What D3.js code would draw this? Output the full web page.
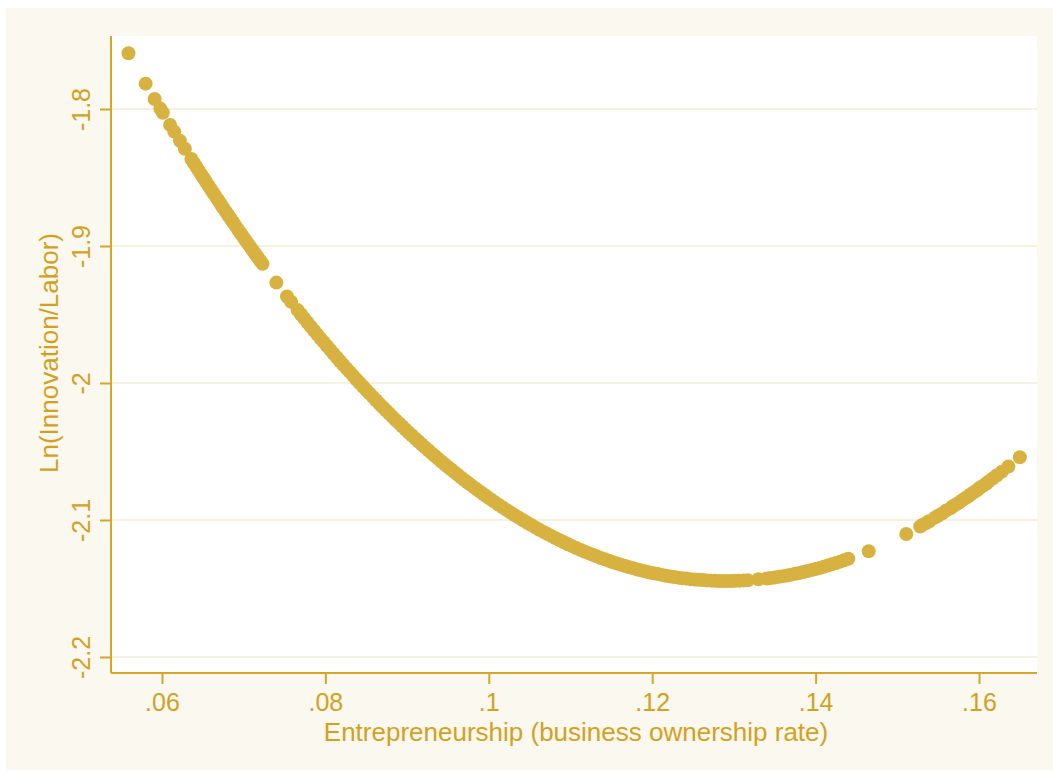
<!DOCTYPE html>
<html>
<head>
<meta charset="utf-8">
<script src="https://cdn.jsdelivr.net/npm/d3@7"></script>
<style>
  html, body { margin: 0; padding: 0; background: #ffffff; }
  svg { display: block; }
  text { font-family: "Liberation Sans", Arial, sans-serif; }
</style>
</head>
<body>
<svg id="chart" width="1053" height="771"></svg>
<script>
// ---- Data ----
const xLabel = "Entrepreneurship (business ownership rate)";
const yLabel = "Ln(Innovation/Labor)";

const xTickValues = [0.06, 0.08, 0.10, 0.12, 0.14, 0.16];
const xTickLabels = [".06", ".08", ".1", ".12", ".14", ".16"];
const yTickValues = [-1.8, -1.9, -2.0, -2.1, -2.2];
const yTickLabels = ["-1.8", "-1.9", "-2", "-2.1", "-2.2"];

const xValues = [
  0.0559, 0.0580, 0.0591, 0.0598, 0.0601, 0.0610, 0.0615, 0.0622, 0.0628,
  0.0636,0.0639,0.0642,0.0645,0.0648,0.0651,0.0654,0.0657,0.0660,0.0663,
  0.0666,0.0669,0.0672,0.0675,0.0678,0.0681,0.0684,0.0687,0.0690,0.0693,
  0.0696,0.0699,0.0702,0.0705,0.0708,0.0711,0.0714,0.0717,0.0720,0.0723,
  0.0740, 0.0753, 0.0758, 0.0766,
  0.0770,0.0774,0.0778,0.0782,0.0786,0.0790,0.0794,0.0798,0.0802,0.0806,
  0.0810,0.0814,0.0818,0.0822,0.0826,0.0830,0.0834,0.0838,0.0842,0.0846,
  0.0850,0.0854,0.0858,0.0862,0.0866,0.0870,0.0874,0.0878,0.0882,0.0886,
  0.0890,0.0894,0.0898,0.0902,0.0906,0.0910,0.0914,0.0918,0.0922,0.0926,
  0.0930,0.0934,0.0938,0.0942,0.0946,0.0950,0.0954,0.0958,0.0962,0.0966,
  0.0970,0.0974,0.0978,0.0982,0.0986,0.0990,0.0994,0.0998,0.1002,
  0.1007,0.1012,0.1017,0.1022,0.1027,0.1032,0.1037,0.1042,0.1047,0.1052,
  0.1057,0.1062,0.1067,0.1072,0.1077,0.1082,0.1087,0.1092,0.1097,0.1102,
  0.1107,0.1112,0.1117,0.1122,0.1127,0.1132,0.1137,0.1142,0.1147,0.1152,
  0.1157,0.1162,0.1167,0.1172,0.1177,0.1182,0.1187,0.1192,0.1197,0.1202,
  0.1207,0.1212,0.1217,0.1222,0.1227,0.1232,0.1237,0.1242,0.1247,0.1252,
  0.1257,0.1262,0.1267,0.1272,0.1277,0.1282,0.1287,0.1292,0.1297,0.1302,
  0.1307,0.1312,0.1317,
  0.1330,
  0.1340,0.1345,0.1350,0.1355,0.1360,0.1365,0.1370,0.1375,0.1380,0.1385,
  0.1390,0.1395,0.1400,0.1405,0.1410,0.1415,0.1420,0.1425,0.1430,0.1435,0.1440,
  0.1465,
  0.1511,0.1528,0.1531,0.1536,0.1539,0.1546,0.1550,0.1555,0.1560,0.1565,
  0.1568,0.1572,0.1576,0.1579,0.1583,0.1587,0.1590,0.1594,0.1598,0.1601,
  0.1605,0.1609,0.1612,0.1617,0.1622,0.1628,0.1636,0.1650
];

const yValues = [
  -1.7593,-1.7815,-1.7927,-1.7997,-1.8027,-1.8116,-1.8165,-1.8232,-1.8290,
  -1.8365,-1.8394,-1.8422,-1.8450,-1.8477,-1.8505,-1.8533,-1.8560,-1.8587,-1.8615,
  -1.8641,-1.8668,-1.8695,-1.8722,-1.8748,-1.8775,-1.8801,-1.8827,-1.8853,-1.8879,
  -1.8905,-1.8930,-1.8956,-1.8981,-1.9006,-1.9031,-1.9056,-1.9081,-1.9106,-1.9130,
  -1.9267,-1.9369,-1.9407,-1.9468,
  -1.9498,-1.9528,-1.9558,-1.9587,-1.9616,-1.9645,-1.9674,-1.9702,-1.9730,-1.9758,
  -1.9786,-1.9814,-1.9841,-1.9868,-1.9895,-1.9921,-1.9948,-1.9974,-2.0000,-2.0026,
  -2.0051,-2.0076,-2.0101,-2.0126,-2.0151,-2.0175,-2.0199,-2.0223,-2.0247,-2.0270,
  -2.0293,-2.0316,-2.0339,-2.0361,-2.0383,-2.0405,-2.0427,-2.0449,-2.0470,-2.0491,
  -2.0512,-2.0533,-2.0553,-2.0573,-2.0593,-2.0613,-2.0632,-2.0651,-2.0670,-2.0689,
  -2.0708,-2.0726,-2.0744,-2.0762,-2.0780,-2.0797,-2.0814,-2.0831,-2.0848,
  -2.0868,-2.0889,-2.0908,-2.0928,-2.0947,-2.0966,-2.0984,-2.1002,-2.1020,-2.1037,
  -2.1054,-2.1071,-2.1087,-2.1103,-2.1118,-2.1134,-2.1148,-2.1163,-2.1177,-2.1191,
  -2.1204,-2.1217,-2.1230,-2.1242,-2.1254,-2.1265,-2.1277,-2.1287,-2.1298,-2.1308,
  -2.1318,-2.1327,-2.1336,-2.1345,-2.1353,-2.1361,-2.1369,-2.1376,-2.1383,-2.1389,
  -2.1395,-2.1401,-2.1407,-2.1412,-2.1416,-2.1421,-2.1425,-2.1428,-2.1432,-2.1435,
  -2.1437,-2.1439,-2.1441,-2.1443,-2.1444,-2.1445,-2.1445,-2.1445,-2.1445,-2.1444,
  -2.1443,-2.1441,-2.1440,
  -2.1433,
  -2.1427,-2.1423,-2.1419,-2.1415,-2.1410,-2.1405,-2.1399,-2.1393,-2.1387,-2.1380,
  -2.1373,-2.1366,-2.1358,-2.1350,-2.1341,-2.1333,-2.1323,-2.1314,-2.1304,-2.1294,-2.1283,
  -2.1228,
  -2.1102,-2.1048,-2.1035,-2.1020,-2.1009,-2.0983,-2.0969,-2.0952,-2.0930,-2.0915,
  -2.0900,-2.0886,-2.0872,-2.0857,-2.0842,-2.0827,-2.0812,-2.0796,-2.0781,-2.0765,
  -2.0750,-2.0734,-2.0718,-2.0696,-2.0674,-2.0647,-2.0610,-2.0542
];

// ---- Drawing ----
const W = 1053, H = 771;
const plot = { left: 111, right: 1037, top: 36, bottom: 673 };
const textColor = "#d4a11f";
const axisColor = "#d6a62a";
const dotColor = "#d8b240";
const bgColor = "#fbf8ef";
const gridColor = "#f7f1e2";
const tickFont = 25;
const titleFont = 26;

const svg = d3.select("#chart");

svg.append("rect").attr("x", 6).attr("y", 8).attr("width", W - 6).attr("height", H - 9)
  .attr("fill", bgColor);

svg.append("rect").attr("x", plot.left).attr("y", plot.top)
  .attr("width", plot.right - plot.left).attr("height", plot.bottom - plot.top)
  .attr("fill", "#ffffff");

const x = d3.scaleLinear().domain([0.05376, 0.16710]).range([plot.left, plot.right]);
const y = d3.scaleLinear().domain([-2.2117, -1.7467]).range([plot.bottom, plot.top]);

// grid lines
svg.append("g").selectAll("line").data(yTickValues).join("line")
  .attr("x1", plot.left).attr("x2", plot.right)
  .attr("y1", d => y(d)).attr("y2", d => y(d))
  .attr("stroke", gridColor).attr("stroke-width", 2);

// points
const pts = d3.range(Math.min(xValues.length, yValues.length)).map(i => ({ x: xValues[i], y: yValues[i] }));
svg.append("g").selectAll("circle").data(pts).join("circle")
  .attr("cx", d => x(d.x)).attr("cy", d => y(d.y)).attr("r", 7)
  .attr("fill", dotColor);

// x axis
const xAxis = d3.axisBottom(x).tickValues(xTickValues)
  .tickFormat((d, i) => xTickLabels[i]).tickSizeInner(11).tickSizeOuter(0);
const gx = svg.append("g").attr("transform", `translate(0,${plot.bottom})`).call(xAxis);
gx.select(".domain").attr("stroke", axisColor).attr("stroke-width", 2)
  .attr("d", `M${plot.left},0H${plot.right}`);
gx.selectAll(".tick line").attr("stroke", axisColor).attr("stroke-width", 2);
gx.selectAll(".tick text").attr("fill", textColor).attr("font-size", tickFont)
  .attr("font-family", "Liberation Sans, Arial, sans-serif").attr("dy", null).attr("y", 38);

// y axis
const yAxis = d3.axisLeft(y).tickValues(yTickValues)
  .tickFormat((d, i) => yTickLabels[i]).tickSizeInner(11).tickSizeOuter(0);
const gy = svg.append("g").attr("transform", `translate(${plot.left},0)`).call(yAxis);
gy.select(".domain").attr("stroke", axisColor).attr("stroke-width", 2)
  .attr("d", `M0,${plot.top}V${plot.bottom}`);
gy.selectAll(".tick line").attr("stroke", axisColor).attr("stroke-width", 2);
gy.selectAll(".tick text")
  .attr("fill", textColor).attr("font-size", tickFont)
  .attr("font-family", "Liberation Sans, Arial, sans-serif")
  .attr("x", null).attr("dy", null)
  .attr("text-anchor", "middle")
  .attr("transform", "translate(-21,0) rotate(-90)");

// axis titles
svg.append("text").attr("x", 576).attr("y", 741)
  .attr("text-anchor", "middle").attr("fill", textColor).attr("font-size", titleFont)
  .text(xLabel);

svg.append("text").attr("transform", "translate(58,353) rotate(-90)")
  .attr("text-anchor", "middle").attr("fill", textColor).attr("font-size", titleFont)
  .text(yLabel);
</script>
</body>
</html>
